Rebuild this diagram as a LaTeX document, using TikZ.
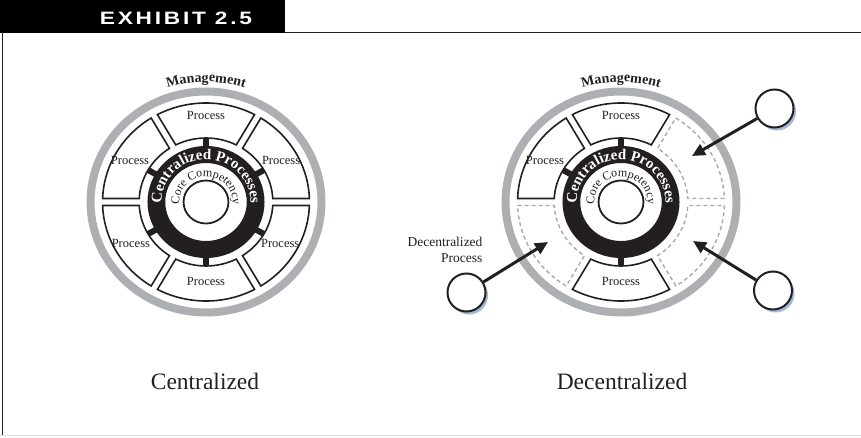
\documentclass[tikz,border=0pt]{standalone}
\usepackage{fontspec}
\usepackage{graphicx}
\setmainfont{Liberation Serif}
\newfontfamily\hdfont{Liberation Sans}[LetterSpace=12]
\usetikzlibrary{decorations.text,arrows.meta,shadows}
\definecolor{ringgray}{HTML}{ADAFB2}
\definecolor{dashgray}{HTML}{A7A9AC}
\definecolor{ink}{HTML}{231F20}
\definecolor{shadowblue}{HTML}{A3B8D9}
\newcommand\mgmtfont{\fontsize{14}{14}\selectfont\bfseries}
\newcommand\cpfont{\fontsize{15}{15}\selectfont\bfseries}
\newcommand\ccfont{\fontsize{12}{12}\selectfont}
\begin{document}
\begin{tikzpicture}[x=1pt,y=1pt,
  procbox/.style={draw=ink, line width=1.6pt, fill=white, line join=miter},
  dashbox/.style={draw=dashgray, line width=1.4pt, dash pattern=on 4pt off 3pt},
  proclabel/.style={font=\fontsize{12.5}{14}\selectfont, text=ink},
  tab/.style={draw=ink, line width=6pt},
  smallc/.style={circle, draw=ink, line width=2pt, fill=white, minimum size=38pt, inner sep=0pt,
    drop shadow={shadow xshift=2.5pt, shadow yshift=-3pt, fill=shadowblue, opacity=1}},
  arr/.style={draw=ink, line width=3pt, -{Triangle[length=13pt,width=12pt]}},
  caption/.style={font=\fontsize{23.5}{26}\selectfont, text=ink}
]
\useasboundingbox (0,0) rectangle (861,437);
% header
\fill[black] (0,404) rectangle (285,437);
\node[text=white, inner sep=0pt] (hdr) at (176,418.5) {\resizebox{152pt}{12.5pt}{\hdfont\bfseries EXHIBIT 2.5}};
\draw[ink, line width=1.2pt] (285,404.5) -- (861,404.5);
\draw[ink, line width=1.2pt] (2.5,404.5) -- (2.5,1.5);
\draw[gray!25, line width=1pt] (0,1.5) -- (861,1.5);

% ---------- left wheel ----------
\begin{scope}[shift={(206,235)}, xscale=1.045]
  \draw[ringgray, line width=8pt] (0,0) circle (110.5);
  \path[decorate, decoration={text along path, text align=center, text color=ink,
      text={|\mgmtfont|Management}}] (150:120) arc[start angle=150, end angle=30, radius=120];
  \foreach \t in {90,30,-30,-90,-150,150} {
    \pgfmathsetmacro\aa{\t+28}\pgfmathsetmacro\ab{\t-28}
    \pgfmathsetmacro\ba{\t-26.9}\pgfmathsetmacro\bb{\t+26.9}
    \draw[procbox] (\aa:99) arc[start angle=\aa, end angle=\ab, radius=99]
      -- (\ba:64) arc[start angle=\ba, end angle=\bb, radius=64] -- cycle;
    \draw[tab] (\t:54) -- (\t:64);
  }
  \fill[ink, even odd rule] (0,0) circle (56) (0,0) circle (39);
  \draw[ink, line width=1.8pt, fill=white] (0,0) circle (21.5);
  \path[decorate, decoration={text along path, text align=center, text color=white,
      text={|\cpfont|Centralized Processes}}] (192:42.5) arc[start angle=192, end angle=-12, radius=42.5];
  \path[decorate, decoration={text along path, text align=center, text color=ink,
      text={|\ccfont|Core Competency}}] (190:25.5) arc[start angle=190, end angle=-10, radius=25.5];
  \foreach \t/\r [count=\i] in {90/87,30/83,-30/82,-90/79,-150/83,150/84}
    \node[proclabel] (lp\i) at (\t:\r) {Process};
\end{scope}
\node[caption] (capL) at (205,56) {Centralized};

% ---------- right wheel ----------
\begin{scope}[shift={(621,235)}, xscale=1.045]
  \draw[ringgray, line width=8pt] (0,0) circle (110.5);
  \path[decorate, decoration={text along path, text align=center, text color=ink,
      text={|\mgmtfont|Management}}] (150:120) arc[start angle=150, end angle=30, radius=120];
  \foreach \t/\st in {90/procbox,150/procbox,-90/procbox,30/dashbox,-30/dashbox,-150/dashbox} {
    \pgfmathsetmacro\aa{\t+28}\pgfmathsetmacro\ab{\t-28}
    \pgfmathsetmacro\ba{\t-26.9}\pgfmathsetmacro\bb{\t+26.9}
    \draw[\st] (\aa:99) arc[start angle=\aa, end angle=\ab, radius=99]
      -- (\ba:64) arc[start angle=\ba, end angle=\bb, radius=64] -- cycle;
  }
  \foreach \t in {90,150,-90} \draw[tab] (\t:54) -- (\t:64);
  \fill[ink, even odd rule] (0,0) circle (56) (0,0) circle (39);
  \draw[ink, line width=1.8pt, fill=white] (0,0) circle (21.5);
  \path[decorate, decoration={text along path, text align=center, text color=white,
      text={|\cpfont|Centralized Processes}}] (192:42.5) arc[start angle=192, end angle=-12, radius=42.5];
  \path[decorate, decoration={text along path, text align=center, text color=ink,
      text={|\ccfont|Core Competency}}] (190:25.5) arc[start angle=190, end angle=-10, radius=25.5];
  \foreach \t/\r [count=\i] in {90/87,-90/79,150/84}
    \node[proclabel] (rp\i) at (\t:\r) {Process};
\end{scope}
\node[caption] (capR) at (622,56) {Decentralized};

% decentralized processes
\node[smallc] (s1) at (774.5,328.5) {};
\node[smallc] (s2) at (773,146.5) {};
\node[smallc] (s3) at (466.5,144.5) {};
\coordinate (t1) at (692,281);
\coordinate (t2) at (693,196);
\coordinate (t3) at (548,195);
\draw[arr] (s1) -- (t1);
\draw[arr] (s2) -- (t2);
\draw[arr] (s3) -- (t3);
\node[align=right, anchor=east, font=\fontsize{13.5}{16}\selectfont, text=ink] (dlab) at (486,187.5) {Decentralized\\Process};
\end{tikzpicture}
\end{document}
